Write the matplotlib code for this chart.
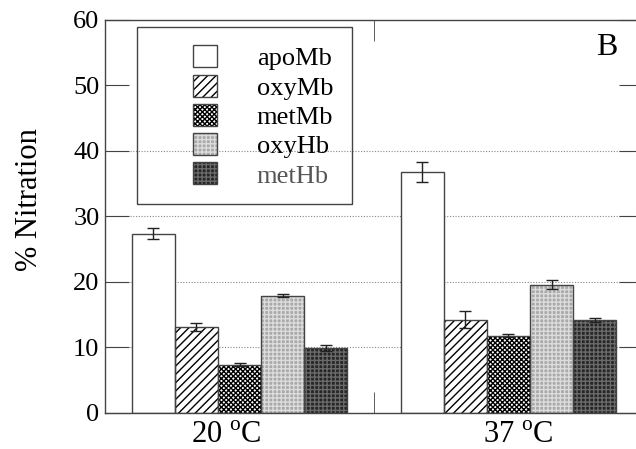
import numpy as np
from matplotlib import pyplot as plt
from matplotlib.patches import Rectangle, Patch

plt.rcParams['font.family'] = ['Liberation Serif', 'DejaVu Serif']
plt.rcParams['mathtext.fontset'] = 'custom'
plt.rcParams['mathtext.rm'] = 'Liberation Serif'
plt.rcParams['hatch.linewidth'] = 1.0

temps = ["20 $^\\mathrm{o}$C", "37 $^\\mathrm{o}$C"]
species = ["apoMb", "oxyMb", "metMb", "oxyHb", "metHb"]
nitration = [
    [27.4, 36.8],   # apoMb
    [13.1, 14.2],   # oxyMb
    [7.4, 11.8],    # metMb
    [17.9, 19.6],   # oxyHb
    [9.9, 14.2],    # metHb
]
errors = [
    [0.8, 1.5],
    [0.6, 1.3],
    [0.2, 0.2],
    [0.2, 0.7],
    [0.5, 0.3],
]

# look of each species: face, hatch, hatch colour
styles = [
    ("white", None, "white"),
    ("white", "////", "black"),
    ("white", "xxxxxxx", "black"),
    ("#a9a9a9", "++++", "#dcdcdc"),
    ("#262626", "++++", "#6a6a6a"),
]
text_cols = ["black", "black", "black", "black", "#555555"]

edge = "#444444"
fig = plt.figure(figsize=(6.36, 4.49), dpi=100)
ax = fig.add_axes([0.1651, 0.0802, 0.8459, 0.8753])

x = np.arange(len(temps))
w = 0.16
handles = []
for i, sp in enumerate(species):
    pos = x + (i - 2) * w
    fc, h, hc = styles[i]
    ax.bar(pos, nitration[i], w, color=fc, hatch=h, edgecolor=hc, linewidth=0, zorder=2)
    ax.bar(pos, nitration[i], w, fill=False, edgecolor=edge, linewidth=1.0, zorder=3)
    ax.errorbar(pos, nitration[i], yerr=errors[i], fmt='none', ecolor='#222222',
                elinewidth=1.0, capsize=4, capthick=1.0, zorder=4)
    handles.append(Patch(facecolor=fc, hatch=h, edgecolor=hc, linewidth=0))

for g in [10, 20, 30, 40]:
    ax.axhline(g, color='#888888', lw=0.8, ls=(0, (1, 1.5)), zorder=1)

ax.set_xlim(-0.5, 1.5)
ax.set_ylim(0, 60)
ax.set_yticks([0, 10, 20, 30, 40, 50, 60])
# the temperature labels sit a little off the group centres in the original
ax.set_xticks([-0.05, 1.035])
ax.set_xticklabels(temps, fontsize=22)
ax.set_xticks([0.5], minor=True)
ax.tick_params(axis='x', which='major', length=0, pad=6)
ax.tick_params(axis='x', which='minor', direction='in', length=15, top=True, color=edge)
ax.tick_params(axis='y', direction='in', length=17, right=True, labelsize=19, color=edge, pad=4)
for s in ax.spines.values():
    s.set_color(edge)
    s.set_linewidth(1.0)
ax.set_ylabel("% Nitration", fontsize=22, labelpad=21, y=0.542)

ax.text(0.932, 0.93, "B", transform=ax.transAxes, fontsize=23, ha='center', va='center')

# legend frame drawn separately so the padding can be uneven
fig.patches.append(Rectangle((0.2154, 0.5457), 0.338, 0.394, transform=fig.transFigure,
                             fill=False, edgecolor=edge, linewidth=1.0, zorder=5))
leg = fig.legend(handles, species, loc='upper left', bbox_to_anchor=(0.304, 0.899),
                 frameon=False, fontsize=19, handlelength=0.9, handleheight=0.9,
                 handletextpad=1.5, labelspacing=0.16, borderpad=0, borderaxespad=0)
for t, c in zip(leg.get_texts(), text_cols):
    t.set_color(c)

# outline legend patches
fig.canvas.draw()
for p in leg.get_patches():
    bb = p.get_window_extent().transformed(fig.transFigure.inverted())
    fig.patches.append(Rectangle((bb.x0, bb.y0), bb.width, bb.height, transform=fig.transFigure,
                                 fill=False, edgecolor=edge, linewidth=1.0, zorder=6))

fig.savefig("out.png", dpi=100)
